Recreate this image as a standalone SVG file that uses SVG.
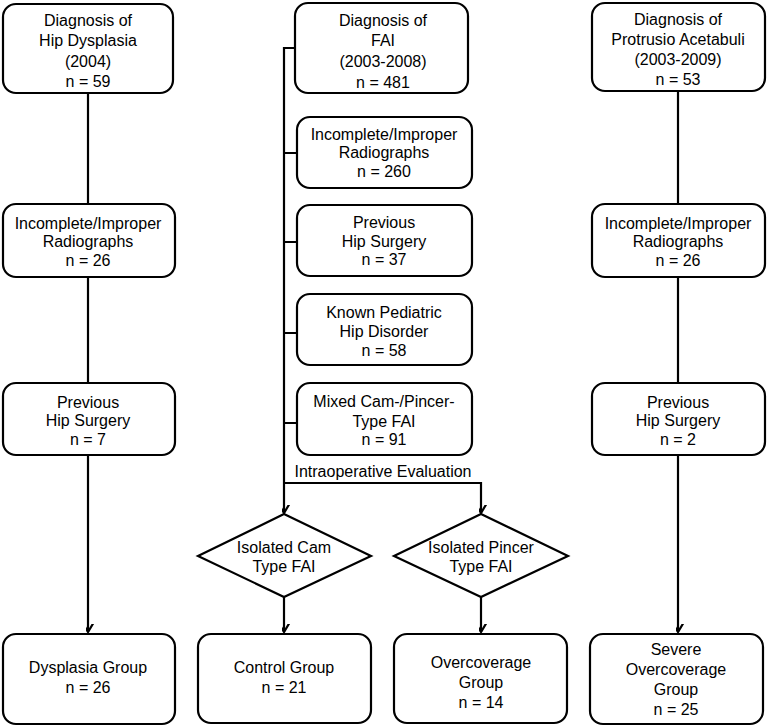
<svg xmlns="http://www.w3.org/2000/svg" width="769" height="728" viewBox="0 0 769 728">
<style>
.box{fill:#fff;stroke:#000;stroke-width:2.2}
.c{fill:none;stroke:#000;stroke-width:2.2}
text{font-family:"Liberation Sans",Arial,sans-serif;font-size:16px;fill:#000;text-anchor:middle}
</style>
<defs>
<marker id="ah" viewBox="-8 -12 16 14" refX="0" refY="0" markerWidth="16" markerHeight="14" markerUnits="userSpaceOnUse" orient="auto-start-reverse">
<path d="M-6,-10 L0,0 L6,-10" transform="rotate(-90)" fill="none" stroke="#000" stroke-width="2.2"/>
</marker>
</defs>
<rect width="769" height="728" fill="#fff"/>
<g id="connectors">
<path class="c" d="M88,93 V204"/>
<path class="c" d="M88,277 V383"/>
<path class="c" d="M88,455 V632" marker-end="url(#ah)"/>
<path class="c" d="M678,91 V204"/>
<path class="c" d="M678,277 V383"/>
<path class="c" d="M678,455 V632" marker-end="url(#ah)"/>
<path class="c" d="M295,48 H284 V513" marker-end="url(#ah)"/>
<path class="c" d="M284,153 H297 M284,242 H297 M284,333 H297 M284,423 H297"/>
<path class="c" d="M284,483 H481 V513" marker-end="url(#ah)"/>
<path class="c" d="M284,597 V632" marker-end="url(#ah)"/>
<path class="c" d="M481,597 V632" marker-end="url(#ah)"/>
<text x="383" y="477">Intraoperative Evaluation</text>
</g>
<g id="dx_hd"><rect class="box" x="3" y="4" width="170" height="89" rx="13"/>
<text x="88" y="26">Diagnosis of</text><text x="88" y="46">Hip Dysplasia</text><text x="88" y="67">(2004)</text><text x="88" y="87">n = 59</text></g>
<g id="l_rad"><rect class="box" x="3" y="204" width="172" height="73" rx="13"/>
<text x="88" y="229">Incomplete/Improper</text><text x="88" y="247">Radiographs</text><text x="88" y="266">n = 26</text></g>
<g id="l_prev"><rect class="box" x="3" y="383" width="172" height="72" rx="13"/>
<text x="88" y="408">Previous</text><text x="88" y="426">Hip Surgery</text><text x="88" y="445">n = 7</text></g>
<g id="l_grp"><rect class="box" x="3" y="634" width="172" height="90" rx="13"/>
<text x="88" y="673">Dysplasia Group</text><text x="88" y="693">n = 26</text></g>
<g id="dx_fai"><rect class="box" x="295" y="3" width="173" height="90" rx="13"/>
<text x="383" y="26">Diagnosis of</text><text x="383" y="46">FAI</text><text x="383" y="67">(2003-2008)</text><text x="383" y="88">n = 481</text></g>
<g id="m_rad"><rect class="box" x="297" y="117" width="175" height="71" rx="13"/>
<text x="384" y="140">Incomplete/Improper</text><text x="384" y="158">Radiographs</text><text x="384" y="177">n = 260</text></g>
<g id="m_prev"><rect class="box" x="297" y="205" width="175" height="71" rx="13"/>
<text x="384" y="228">Previous</text><text x="384" y="247">Hip Surgery</text><text x="384" y="265">n = 37</text></g>
<g id="m_ped"><rect class="box" x="297" y="294" width="175" height="71" rx="13"/>
<text x="384" y="318">Known Pediatric</text><text x="384" y="337">Hip Disorder</text><text x="384" y="356">n = 58</text></g>
<g id="m_mix"><rect class="box" x="297" y="383" width="175" height="72" rx="13"/>
<text x="384" y="407">Mixed Cam-/Pincer-</text><text x="384" y="427">Type FAI</text><text x="384" y="445">n = 91</text></g>
<g id="d_cam"><polygon class="box" points="284,514 371,556 284,597 198,556"/>
<text x="284" y="553">Isolated Cam</text><text x="284" y="572">Type FAI</text></g>
<g id="d_pin"><polygon class="box" points="481,514 568,556 481,597 394,556"/>
<text x="481" y="553">Isolated Pincer</text><text x="481" y="572">Type FAI</text></g>
<g id="ctrl"><rect class="box" x="198" y="634" width="173" height="89" rx="13"/>
<text x="284" y="673">Control Group</text><text x="284" y="693">n = 21</text></g>
<g id="over"><rect class="box" x="394" y="634" width="173" height="89" rx="13"/>
<text x="481" y="668">Overcoverage</text><text x="481" y="688">Group</text><text x="481" y="708">n = 14</text></g>
<g id="dx_pa"><rect class="box" x="592" y="3" width="173" height="88" rx="13"/>
<text x="678" y="25">Diagnosis of</text><text x="678" y="45">Protrusio Acetabuli</text><text x="678" y="65">(2003-2009)</text><text x="678" y="85">n = 53</text></g>
<g id="r_rad"><rect class="box" x="592" y="204" width="173" height="73" rx="13"/>
<text x="678" y="229">Incomplete/Improper</text><text x="678" y="247">Radiographs</text><text x="678" y="266">n = 26</text></g>
<g id="r_prev"><rect class="box" x="592" y="383" width="173" height="72" rx="13"/>
<text x="678" y="408">Previous</text><text x="678" y="426">Hip Surgery</text><text x="678" y="445">n = 2</text></g>
<g id="r_grp"><rect class="box" x="590" y="634" width="173" height="90" rx="13"/>
<text x="676" y="655">Severe</text><text x="676" y="675">Overcoverage</text><text x="676" y="695">Group</text><text x="676" y="715">n = 25</text></g>
</svg>
